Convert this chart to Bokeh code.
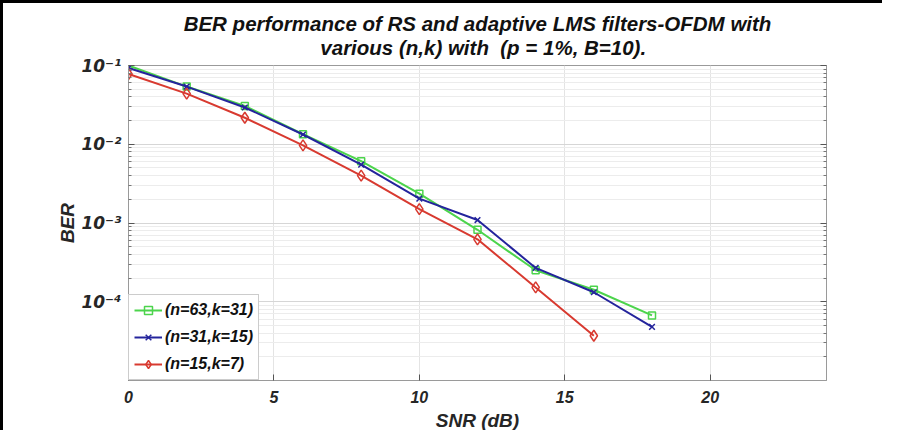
from bokeh.plotting import figure
from bokeh.models import (FixedTicker, LogAxis, Range1d, Legend, CustomJSTickFormatter)
from bokeh.embed import file_html
from bokeh.resources import INLINE

# ---- data ----
snr_db = [0, 2, 4, 6, 8, 10, 12, 14, 16, 18]
ber_63_31 = [0.100, 0.054, 0.0307, 0.0134, 0.0061, 0.00236, 0.00082, 0.000251, 0.000142, 0.000067]
ber_31_15 = [0.093, 0.054, 0.0293, 0.0133, 0.0055, 0.00204, 0.00109, 0.000269, 0.000132, 0.000048]
snr_db_15_7 = [0, 2, 4, 6, 8, 10, 12, 14, 16]
ber_15_7 = [0.078, 0.044, 0.0217, 0.0097, 0.0040, 0.00150, 0.00062, 0.000152, 0.000037]

labels = ["(n=63,k=31)", "(n=31,k=15)", "(n=15,k=7)"]
x_ticks = [0, 5, 10, 15, 20]
y_ticks = [1e-4, 1e-3, 1e-2, 1e-1]
title_line1 = "BER performance of RS and adaptive LMS filters-OFDM with"
title_line2 = "various (n,k) with  (p = 1%, B=10)."

FONT = "Liberation Sans"
GREEN = "#4cd44c"
BLUE = "#24249c"
RED = "#d83a30"
TXT = "#262626"

y_minor = [k * 10.0 ** e for e in range(-5, -1) for k in range(2, 10)]

p = figure(width=882, height=430, y_axis_type="log",
           x_range=Range1d(0, 24), y_range=Range1d(1e-5, 1e-1),
           output_backend="svg", toolbar_location=None,
           min_border_left=125, min_border_right=59, min_border_top=10,
           min_border_bottom=46,
           styles={"border-left": "3px solid black", "border-top": "3px solid black"})

# second title line indented (non-breaking spaces) so that it sits centred under the first
p.title.text = title_line1 + "\n" + "\u00a0" * 24 + title_line2.replace("  ", "\u00a0 ")
p.title.align = "center"
p.title.text_font = FONT
p.title.text_font_size = "20.5px"
p.title.text_font_style = "bold italic"
p.title.text_color = "#111111"
p.title.text_line_height = 1.05
p.title.standoff = 13

p.outline_line_color = "#9a9a9a"
p.outline_line_width = 1

# axes
p.xaxis.ticker = FixedTicker(ticks=x_ticks, minor_ticks=[])
p.yaxis.ticker = FixedTicker(ticks=y_ticks, minor_ticks=y_minor)
for ax in (p.xaxis[0], p.yaxis[0]):
    ax.major_label_text_font = FONT
    ax.major_label_text_font_size = "16px"
    ax.major_label_text_font_style = "bold italic"
    ax.major_label_text_color = TXT
    ax.axis_label_text_font = FONT
    ax.axis_label_text_font_style = "bold italic"
    ax.axis_label_text_color = TXT
    ax.axis_line_color = "#9a9a9a"
    ax.major_tick_in = 6
    ax.major_tick_out = 0
    ax.minor_tick_in = 3
    ax.minor_tick_out = 0
    ax.major_tick_line_color = "#555555"
    ax.minor_tick_line_color = "#777777"

p.yaxis.formatter = CustomJSTickFormatter(code="""
const e = Math.round(Math.log10(tick));
const sup = {'-':'\\u207b','0':'\\u2070','1':'\\u00b9','2':'\\u00b2','3':'\\u00b3','4':'\\u2074','5':'\\u2075','6':'\\u2076','7':'\\u2077','8':'\\u2078','9':'\\u2079'};
return '10' + String(e).split('').map(c => sup[c]).join('');
""")
p.yaxis.major_label_text_font = "DejaVu Sans"
p.yaxis.major_label_text_font_size = "17px"

p.xaxis.axis_label = "SNR (dB)"
p.xaxis.axis_label_text_font_size = "19px"
p.xaxis.axis_label_standoff = 4
p.xaxis.major_label_standoff = 10
p.yaxis.axis_label = "BER"
p.yaxis.axis_label_text_font_size = "19px"
p.yaxis.axis_label_standoff = 0
p.yaxis.major_label_standoff = 7

# right axis with ticks only
ra = LogAxis(ticker=FixedTicker(ticks=y_ticks, minor_ticks=y_minor),
             major_label_text_color=None, axis_line_color="#9a9a9a",
             major_tick_in=6, major_tick_out=0, minor_tick_in=3, minor_tick_out=0,
             major_tick_line_color="#555555", minor_tick_line_color="#777777")
p.add_layout(ra, "right")

# grids
p.xgrid.grid_line_color = "#e4e4e4"
p.ygrid.grid_line_color = "#d6d6d6"
p.ygrid.minor_grid_line_color = "#ececec"

# series
series = [
    (snr_db, ber_63_31, GREEN, "square", labels[0], 7),
    (snr_db, ber_31_15, BLUE, "x", labels[1], 8),
    (snr_db_15_7, ber_15_7, RED, "diamond", labels[2], 11),
]
items = []
for xs, ys, col, mk, lab, sz in series:
    l = p.line(xs, ys, line_color=col, line_width=2)
    s = p.scatter(xs, ys, marker=mk, size=sz, line_color=col, fill_color="white",
                  fill_alpha=0.0, line_width=1.5)
    items.append((lab, [l, s]))

legend = Legend(items=items, location="bottom_left", margin=0,
                border_line_color="#9a9a9a", border_line_width=1,
                label_text_font=FONT, label_text_font_size="16px",
                label_text_font_style="bold italic", label_text_color="#111111",
                glyph_width=28, spacing=7, padding=5, label_standoff=3,
                background_fill_color="white", background_fill_alpha=1.0)
p.add_layout(legend)

open("out.html", "w").write(file_html(p, INLINE))
